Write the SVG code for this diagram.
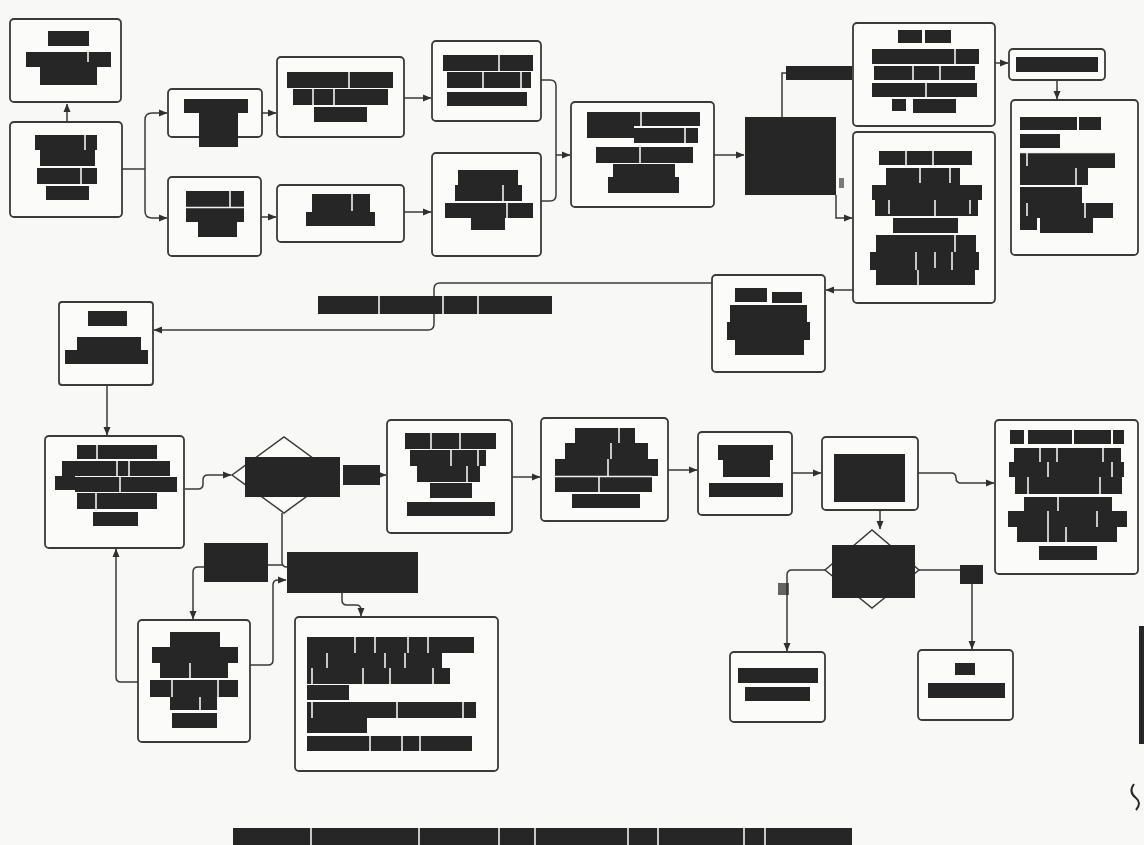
<svg xmlns="http://www.w3.org/2000/svg" width="1144" height="845" viewBox="0 0 1144 845">
<style>
.bg{fill:#f8f8f6}
.box{fill:#fbfbfa;stroke:#3a3a3a;stroke-width:1.8}
.bar{fill:#262626}
.gap{fill:none;stroke:#f1f1ef;stroke-width:1.6}
.ln{fill:none;stroke:#3a3a3a;stroke-width:1.5}
.dia{fill:#fbfbfa;stroke:#3a3a3a;stroke-width:1.5}
</style>
<defs>
<marker id="ah" markerUnits="userSpaceOnUse" markerWidth="9" markerHeight="8" refX="8" refY="4" orient="auto">
<path d="M0,0.5 L8.5,4 L0,7.5 z" fill="#303030"/>
</marker>
</defs>
<rect class="bg" x="0" y="0" width="1144" height="845"/>

<g id="connectors">
<path class="ln" d="M67,122 V104" marker-end="url(#ah)"/>
<path class="ln" d="M122,169 H145"/>
<path class="ln" d="M145,169 V120 Q145,113 152,113 H167" marker-end="url(#ah)"/>
<path class="ln" d="M145,169 V211 Q145,218 152,218 H167" marker-end="url(#ah)"/>
<path class="ln" d="M262,113 H276" marker-end="url(#ah)"/>
<path class="ln" d="M261,217 H276" marker-end="url(#ah)"/>
<path class="ln" d="M404,98 H431" marker-end="url(#ah)"/>
<path class="ln" d="M404,212 H431" marker-end="url(#ah)"/>
<path class="ln" d="M541,80 H550 Q556,80 556,86 V195 Q556,201 550,201 H541"/>
<path class="ln" d="M556,155 H570" marker-end="url(#ah)"/>
<path class="ln" d="M714,155 H744" marker-end="url(#ah)"/>
<path class="ln" d="M782,117 V73 H787"/>
<path class="ln" d="M836,195 V218 H852" marker-end="url(#ah)"/>
<path class="ln" d="M995,63 H1008" marker-end="url(#ah)"/>
<path class="ln" d="M1057,80 V99" marker-end="url(#ah)"/>
<path class="ln" d="M853,290 H826" marker-end="url(#ah)"/>
<path class="ln" d="M712,283 H440 Q434,283 434,289 V324 Q434,330 428,330 H154" marker-end="url(#ah)"/>
<path class="ln" d="M107,386 V435" marker-end="url(#ah)"/>
<path class="ln" d="M185,489 H198 Q203,489 203,484 V480 Q203,475 208,475 H231" marker-end="url(#ah)"/>
<path class="ln" d="M380,475 H386" marker-end="url(#ah)"/>
<path class="ln" d="M512,477 H540" marker-end="url(#ah)"/>
<path class="ln" d="M668,470 H697" marker-end="url(#ah)"/>
<path class="ln" d="M792,473 H821" marker-end="url(#ah)"/>
<path class="ln" d="M918,473 H951 Q956,473 956,478 Q956,483 961,483 H994" marker-end="url(#ah)"/>
<path class="ln" d="M880,510 V529" marker-end="url(#ah)"/>
<path class="ln" d="M282,513 V562 Q282,567 287,567"/>
<path class="ln" d="M268,565 H282"/>
<path class="ln" d="M204,567 H198 Q193,567 193,572 V619" marker-end="url(#ah)"/>
<path class="ln" d="M250,665 H268 Q273,665 273,660 V585 Q273,580 278,580 H286" marker-end="url(#ah)"/>
<path class="ln" d="M342,593 V600 Q342,605 347,605 H356 Q361,605 361,610 V616" marker-end="url(#ah)"/>
<path class="ln" d="M138,682 H121 Q116,682 116,677 V549" marker-end="url(#ah)"/>
<path class="ln" d="M825,570 H792 Q787,570 787,575 V651" marker-end="url(#ah)"/>
<path class="ln" d="M915,570 H960"/>
<path class="ln" d="M972,584 V649" marker-end="url(#ah)"/>
<rect class="bar" x="786" y="66" width="66" height="14"/>
<rect class="bar" x="318" y="296" width="234" height="18"/>
<path class="gap" d="M379,296 V314 M443,296 V314 M478,296 V314"/>
<rect class="bar" x="343" y="465" width="37" height="20"/>
<rect class="bar" x="204" y="543" width="64" height="39"/>
<rect class="bar" x="960" y="565" width="23" height="19"/>
<rect class="bar" x="778" y="583" width="11" height="12" opacity="0.7"/>
<rect class="bar" x="839" y="178" width="5" height="10" opacity="0.6"/>
</g>

<g id="nodeA">
<rect class="box" x="10" y="19" width="111" height="83" rx="4"/>
<rect class="bar" x="48" y="31" width="41" height="15"/>
<rect class="bar" x="26" y="52" width="85" height="15"/>
<rect class="bar" x="40" y="66" width="57" height="19"/>
<path class="gap" d="M88,52 V62"/>
</g>

<g id="nodeB">
<rect class="box" x="10" y="122" width="112" height="95" rx="4"/>
<rect class="bar" x="35" y="135" width="62" height="15"/>
<rect class="bar" x="40" y="150" width="55" height="16"/>
<rect class="bar" x="37" y="168" width="60" height="16"/>
<rect class="bar" x="46" y="186" width="43" height="14"/>
<path class="gap" d="M85,135 V150 M81,168 V184"/>
</g>

<g id="nodeC">
<rect class="box" x="168" y="89" width="94" height="48" rx="4"/>
<rect class="bar" x="184" y="99" width="64" height="14"/>
<rect class="bar" x="199" y="112" width="39" height="35"/>
</g>

<g id="nodeD">
<rect class="box" x="168" y="177" width="93" height="79" rx="4"/>
<rect class="bar" x="186" y="191" width="58" height="16"/>
<rect class="bar" x="186" y="207" width="58" height="15"/>
<rect class="bar" x="198" y="222" width="39" height="15"/>
<path class="gap" d="M230,191 V207 M186,207.5 H244"/>
</g>

<g id="nodeE">
<rect class="box" x="277" y="57" width="127" height="80" rx="4"/>
<rect class="bar" x="287" y="72" width="106" height="16"/>
<rect class="bar" x="293" y="89" width="95" height="16"/>
<rect class="bar" x="314" y="107" width="53" height="15"/>
<path class="gap" d="M349,72 V88 M313,89 V105 M334,89 V105"/>
</g>

<g id="nodeF">
<rect class="box" x="277" y="185" width="127" height="57" rx="4"/>
<rect class="bar" x="312" y="194" width="58" height="19"/>
<rect class="bar" x="306" y="212" width="69" height="14"/>
<path class="gap" d="M352,194 V211"/>
</g>

<g id="nodeG">
<rect class="box" x="432" y="41" width="109" height="80" rx="4"/>
<rect class="bar" x="443" y="55" width="90" height="16"/>
<rect class="bar" x="447" y="72" width="84" height="16"/>
<rect class="bar" x="447" y="92" width="80" height="14"/>
<path class="gap" d="M499,55 V71 M483,72 V88 M521,72 V88"/>
</g>

<g id="nodeH">
<rect class="box" x="432" y="153" width="109" height="103" rx="4"/>
<rect class="bar" x="458" y="170" width="60" height="15"/>
<rect class="bar" x="455" y="185" width="67" height="16"/>
<rect class="bar" x="445" y="203" width="88" height="15"/>
<rect class="bar" x="471" y="218" width="34" height="12"/>
<path class="gap" d="M503,185 V201 M507,203 V218"/>
</g>

<g id="nodeI">
<rect class="box" x="571" y="102" width="143" height="105" rx="4"/>
<rect class="bar" x="587" y="112" width="113" height="14"/>
<rect class="bar" x="587" y="126" width="47" height="12"/>
<rect class="bar" x="634" y="128" width="64" height="15"/>
<rect class="bar" x="596" y="147" width="97" height="16"/>
<rect class="bar" x="613" y="164" width="62" height="13"/>
<rect class="bar" x="608" y="177" width="71" height="16"/>
<path class="gap" d="M641,112 V126 M685,128 V143 M640,147 V163"/>
</g>

<g id="nodeJ">
<rect class="bar" x="745" y="117" width="91" height="78"/>
</g>

<g id="nodeK">
<rect class="box" x="853" y="23" width="142" height="103" rx="4"/>
<rect class="bar" x="898" y="30" width="24" height="13"/>
<rect class="bar" x="925" y="30" width="26" height="13"/>
<rect class="bar" x="872" y="49" width="107" height="15"/>
<rect class="bar" x="874" y="66" width="101" height="14"/>
<rect class="bar" x="872" y="83" width="105" height="14"/>
<rect class="bar" x="892" y="99" width="14" height="12"/>
<rect class="bar" x="913" y="99" width="43" height="14"/>
<path class="gap" d="M955,49 V64 M913,66 V80 M940,66 V80 M926,83 V97"/>
</g>

<g id="nodeL">
<rect class="box" x="853" y="132" width="142" height="171" rx="4"/>
<rect class="bar" x="879" y="151" width="93" height="14"/>
<rect class="bar" x="886" y="168" width="74" height="17"/>
<rect class="bar" x="872" y="185" width="110" height="15"/>
<rect class="bar" x="875" y="200" width="103" height="16"/>
<rect class="bar" x="893" y="218" width="65" height="15"/>
<rect class="bar" x="876" y="235" width="100" height="17"/>
<rect class="bar" x="870" y="252" width="109" height="18"/>
<rect class="bar" x="876" y="270" width="99" height="15"/>
<path class="gap" d="M906,151 V165 M933,151 V165 M920,168 V183 M950,168 V183 M889,200 V214 M935,200 V216 M970,200 V214 M955,235 V252 M916,252 V270 M935,252 V268 M952,252 V270 M918,270 V285"/>
</g>

<g id="nodeM">
<rect class="box" x="1009" y="49" width="96" height="31" rx="4"/>
<rect class="bar" x="1016" y="57" width="82" height="15"/>
</g>

<g id="nodeN">
<rect class="box" x="1011" y="100" width="127" height="155" rx="4"/>
<rect class="bar" x="1020" y="117" width="57" height="13"/>
<rect class="bar" x="1079" y="117" width="22" height="13"/>
<rect class="bar" x="1020" y="134" width="40" height="14"/>
<rect class="bar" x="1020" y="153" width="95" height="15"/>
<rect class="bar" x="1020" y="168" width="68" height="17"/>
<rect class="bar" x="1020" y="187" width="62" height="16"/>
<rect class="bar" x="1020" y="203" width="93" height="15"/>
<rect class="bar" x="1020" y="218" width="17" height="12"/>
<rect class="bar" x="1040" y="218" width="53" height="15"/>
<path class="gap" d="M1027,153 V166 M1076,168 V185 M1027,203 V216 M1085,203 V218 M1020,152.5 H1115"/>
</g>

<g id="nodeO">
<rect class="box" x="59" y="302" width="94" height="83" rx="3"/>
<rect class="bar" x="88" y="311" width="39" height="15"/>
<rect class="bar" x="77" y="337" width="64" height="14"/>
<rect class="bar" x="65" y="350" width="83" height="14"/>
</g>

<g id="nodeP">
<rect class="box" x="712" y="275" width="113" height="97" rx="4"/>
<rect class="bar" x="735" y="288" width="32" height="14"/>
<rect class="bar" x="772" y="292" width="30" height="11"/>
<rect class="bar" x="730" y="305" width="77" height="17"/>
<rect class="bar" x="727" y="322" width="83" height="18"/>
<rect class="bar" x="735" y="340" width="69" height="15"/>
</g>

<g id="nodeQ">
<rect class="box" x="45" y="436" width="139" height="112" rx="4"/>
<rect class="bar" x="77" y="445" width="80" height="14"/>
<rect class="bar" x="62" y="461" width="108" height="15"/>
<rect class="bar" x="55" y="476" width="20" height="14"/>
<rect class="bar" x="75" y="477" width="102" height="15"/>
<rect class="bar" x="77" y="493" width="80" height="16"/>
<rect class="bar" x="93" y="512" width="45" height="14"/>
<path class="gap" d="M97,445 V459 M117,461 V476 M129,461 V476 M120,477 V492 M96,493 V509"/>
</g>

<g id="decision1">
<polygon class="dia" points="232,475 284,437 336,475 284,513"/>
<rect class="bar" x="245" y="457" width="95" height="40"/>
</g>

<g id="nodeT">
<rect class="box" x="387" y="420" width="125" height="113" rx="4"/>
<rect class="bar" x="405" y="433" width="91" height="16"/>
<rect class="bar" x="410" y="450" width="76" height="16"/>
<rect class="bar" x="417" y="466" width="63" height="16"/>
<rect class="bar" x="430" y="483" width="42" height="15"/>
<rect class="bar" x="407" y="502" width="88" height="14"/>
<path class="gap" d="M431,433 V449 M460,433 V449 M451,450 V466 M478,450 V466 M467,466 V482"/>
</g>

<g id="nodeU">
<rect class="box" x="541" y="418" width="127" height="103" rx="4"/>
<rect class="bar" x="575" y="428" width="60" height="15"/>
<rect class="bar" x="565" y="443" width="83" height="16"/>
<rect class="bar" x="555" y="459" width="103" height="17"/>
<rect class="bar" x="555" y="476" width="97" height="16"/>
<rect class="bar" x="572" y="494" width="68" height="14"/>
<path class="gap" d="M619,428 V443 M611,443 V459 M608,459 V476 M599,476 V492 M555,476.5 H652"/>
</g>

<g id="nodeV">
<rect class="box" x="698" y="432" width="94" height="83" rx="4"/>
<path class="bar" d="M718,445 H773 V460 H770 V477 H723 V460 H718 Z"/>
<rect class="bar" x="709" y="483" width="74" height="14"/>
</g>

<g id="nodeW">
<rect class="box" x="822" y="437" width="96" height="73" rx="4"/>
<rect class="bar" x="834" y="454" width="71" height="48"/>
</g>

<g id="nodeX">
<rect class="box" x="995" y="420" width="143" height="154" rx="4"/>
<rect class="bar" x="1010" y="430" width="14" height="14"/>
<rect class="bar" x="1028" y="430" width="44" height="14"/>
<rect class="bar" x="1074" y="430" width="37" height="14"/>
<rect class="bar" x="1113" y="430" width="11" height="14"/>
<rect class="bar" x="1014" y="448" width="107" height="14"/>
<rect class="bar" x="1009" y="462" width="115" height="15"/>
<rect class="bar" x="1015" y="477" width="107" height="17"/>
<rect class="bar" x="1024" y="497" width="88" height="14"/>
<rect class="bar" x="1008" y="511" width="119" height="16"/>
<rect class="bar" x="1017" y="527" width="100" height="15"/>
<rect class="bar" x="1039" y="546" width="58" height="14"/>
<path class="gap" d="M1040,448 V462 M1057,448 V462 M1103,448 V462 M1048,462 V477 M1112,462 V477 M1028,477 V494 M1100,477 V494 M1058,497 V511 M1048,511 V527 M1097,511 V527 M1048,527 V542 M1066,527 V542"/>
</g>

<g id="decision2">
<polygon class="dia" points="825,570 872,530 919,570 872,608"/>
<rect class="bar" x="832" y="545" width="83" height="53"/>
</g>

<g id="labelBig">
<rect class="bar" x="287" y="552" width="131" height="41"/>
</g>

<g id="nodeR">
<rect class="box" x="138" y="620" width="112" height="122" rx="4"/>
<rect class="bar" x="170" y="632" width="50" height="15"/>
<rect class="bar" x="152" y="647" width="86" height="16"/>
<rect class="bar" x="160" y="663" width="68" height="15"/>
<rect class="bar" x="150" y="680" width="88" height="17"/>
<rect class="bar" x="170" y="697" width="47" height="13"/>
<rect class="bar" x="172" y="713" width="45" height="15"/>
<path class="gap" d="M190,663 V678 M172,680 V697 M218,680 V697 M200,697 V710"/>
</g>

<g id="nodeS">
<rect class="box" x="295" y="617" width="203" height="154" rx="4"/>
<rect class="bar" x="307" y="637" width="167" height="16"/>
<rect class="bar" x="307" y="653" width="135" height="15"/>
<rect class="bar" x="307" y="668" width="143" height="16"/>
<rect class="bar" x="307" y="685" width="42" height="15"/>
<rect class="bar" x="307" y="702" width="169" height="16"/>
<rect class="bar" x="307" y="718" width="60" height="15"/>
<rect class="bar" x="307" y="736" width="165" height="15"/>
<path class="gap" d="M355,637 V653 M375,637 V653 M408,637 V653 M428,637 V653 M327,653 V668 M385,653 V668 M405,653 V668 M312,668 V684 M363,668 V684 M390,668 V684 M433,668 V684 M312,702 V718 M397,702 V718 M463,702 V718 M370,736 V751 M402,736 V751 M420,736 V751"/>
</g>

<g id="nodeY">
<rect class="box" x="730" y="652" width="95" height="70" rx="4"/>
<rect class="bar" x="738" y="668" width="80" height="15"/>
<rect class="bar" x="745" y="687" width="65" height="14"/>
</g>

<g id="nodeZ">
<rect class="box" x="918" y="650" width="95" height="70" rx="4"/>
<rect class="bar" x="955" y="663" width="20" height="12"/>
<rect class="bar" x="928" y="683" width="77" height="15"/>
</g>

<g id="footer">
<rect class="bar" x="233" y="828" width="619" height="17"/>
<path class="gap" d="M311,828 V845 M419,828 V845 M499,828 V845 M535,828 V845 M628,828 V845 M658,828 V845 M744,828 V845 M765,828 V845"/>
</g>

<g id="edge">
<rect class="bar" x="1139" y="626" width="5" height="118"/>
<path d="M1134,784 Q1128,792 1136,798 Q1142,803 1136,810" fill="none" stroke="#2a2a2a" stroke-width="2"/>
</g>
</svg>
